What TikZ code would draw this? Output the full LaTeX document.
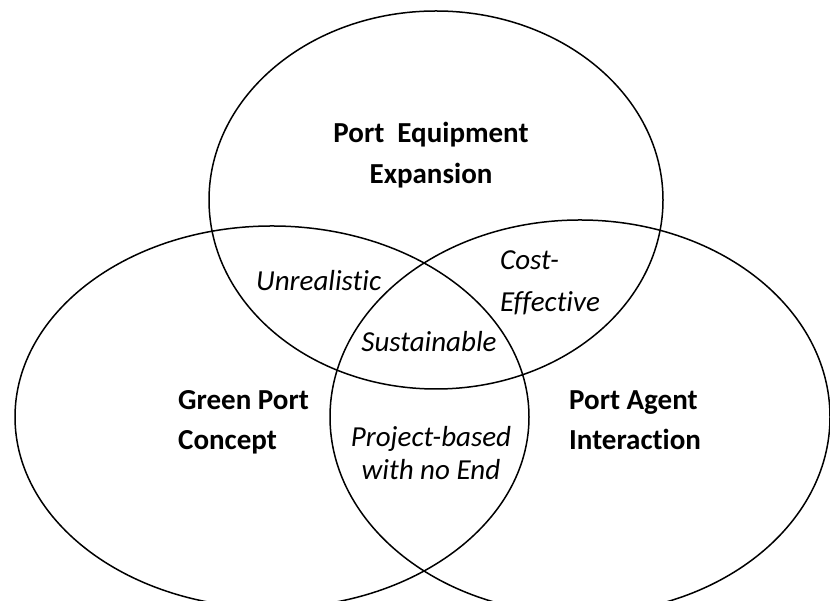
\documentclass[tikz,border=0pt]{standalone}
\usepackage{fontspec}
\setmainfont{Carlito}[Ligatures={NoCommon}]
\begin{document}
\begin{tikzpicture}[x=1pt,y=1pt,
  ring/.style={draw=black, line width=1.5pt},
  boldlbl/.style={font=\fontsize{29}{34}\selectfont\bfseries, inner sep=0pt},
  itallbl/.style={font=\fontsize{29}{34}\selectfont\itshape, inner sep=0pt}]
\useasboundingbox (0,0) rectangle (830,601);
\begin{scope}
\clip (0,0) rectangle (830,601);
\draw[ring] (436,401) ellipse [x radius=227, y radius=189];
\draw[ring] (272,184) ellipse [x radius=257, y radius=191];
\draw[ring] (580,184) ellipse [x radius=250, y radius=197];
\end{scope}
\node[boldlbl, anchor=base] (pe1) at (431,458) {Port\ \ Equipment};
\node[boldlbl, anchor=base] (pe2) at (431,417) {Expansion};
\node[boldlbl, anchor=base west] (gp1) at (178,191) {Green Port};
\node[boldlbl, anchor=base west] (gp2) at (178,151) {Concept};
\node[boldlbl, anchor=base west] (pa1) at (569,191) {Port Agent};
\node[boldlbl, anchor=base west] (pa2) at (569,151) {Interaction};
\node[itallbl, anchor=base west] (ur) at (256,310) {Unrealistic};
\node[itallbl, anchor=base west] (ce1) at (500,331) {Cost-};
\node[itallbl, anchor=base west] (ce2) at (500,289) {Effective};
\node[itallbl, anchor=base] (su) at (429,249) {Sustainable};
\node[itallbl, anchor=base] (pb1) at (431,154) {Project-based};
\node[itallbl, anchor=base] (pb2) at (431,121) {with no End};
\end{tikzpicture}
\end{document}
